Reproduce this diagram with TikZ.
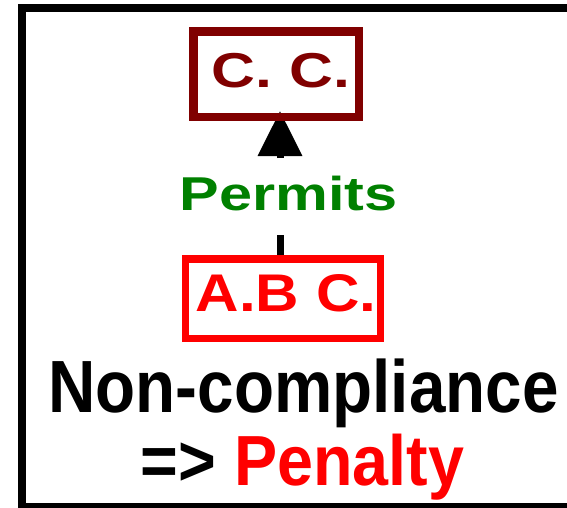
\documentclass[tikz,border=0pt]{standalone}
\usepackage{fontspec}
\setmainfont{Liberation Sans}
\usetikzlibrary{arrows.meta,backgrounds}
\definecolor{ccred}{HTML}{800000}
\definecolor{abcred}{HTML}{FF0000}
\definecolor{permgreen}{HTML}{008000}
\begin{document}
\begin{tikzpicture}[x=1pt,y=-1pt,
  box/.style={draw, inner sep=0pt, font=\bfseries},
  link/.style={line width=7pt, draw=black},
  caption/.style={inner sep=0pt, anchor=base, font=\bfseries}]
\useasboundingbox (0,0) rectangle (567,507);

% outer frame, running off the right and bottom edges
\begin{scope}
  \clip (0,0) rectangle (567,507);
  \draw[line width=8pt] (22,8) rectangle (620,507);
\end{scope}

% the two parties
\node[box, draw=ccred, text=ccred, line width=8.5pt,
      minimum width=165.5pt, minimum height=85.5pt,
      text height=35pt, text depth=9pt] (cc) at (276,74)
  {\fontsize{49}{55}\selectfont\hspace*{10pt}\scalebox{1.24}[1]{C. C.}};
\node[box, draw=abcred, text=abcred, line width=7.5pt,
      minimum width=195pt, minimum height=79.5pt,
      text height=38pt, text depth=13.5pt] (abc) at (283,298.75)
  {\fontsize{53}{58}\selectfont\hspace*{6pt}\scalebox{1.135}[1]{A.B C.}};

% relation label
\node[caption, text=permgreen] (perm) at (288.5,210)
  {\fontsize{47.5}{52}\selectfont\scalebox{1.25}[1]{Permits}};

% ends of the connector where it breaks for the label
\coordinate (gapbot) at ([yshift=-25pt]perm.base);
\coordinate (gaptop) at ([yshift=52pt]perm.base);

% connector, broken by the label, drawn beneath the boxes
\begin{pgfonlayer}{background}
  \draw[link] ([xshift=-3pt]abc.north) -- ([xshift=-3pt]abc.north |- gapbot);
  \draw[link, -{Triangle[width=43pt,length=45pt]}]
    ([xshift=4pt]cc.south |- gaptop) -- ([xshift=4pt,yshift=10pt]cc.south);
\end{pgfonlayer}

% consequence
\node[caption] (nc) at (303.5,412)
  {\fontsize{74}{80}\selectfont\scalebox{0.886}[1]{Non-compliance}};
\node[caption] (pen) at (302.5,485)
  {\fontsize{71}{78}\selectfont\scalebox{0.91}[1]{=> \textcolor{abcred}{Penalty}}};
\end{tikzpicture}
\end{document}
